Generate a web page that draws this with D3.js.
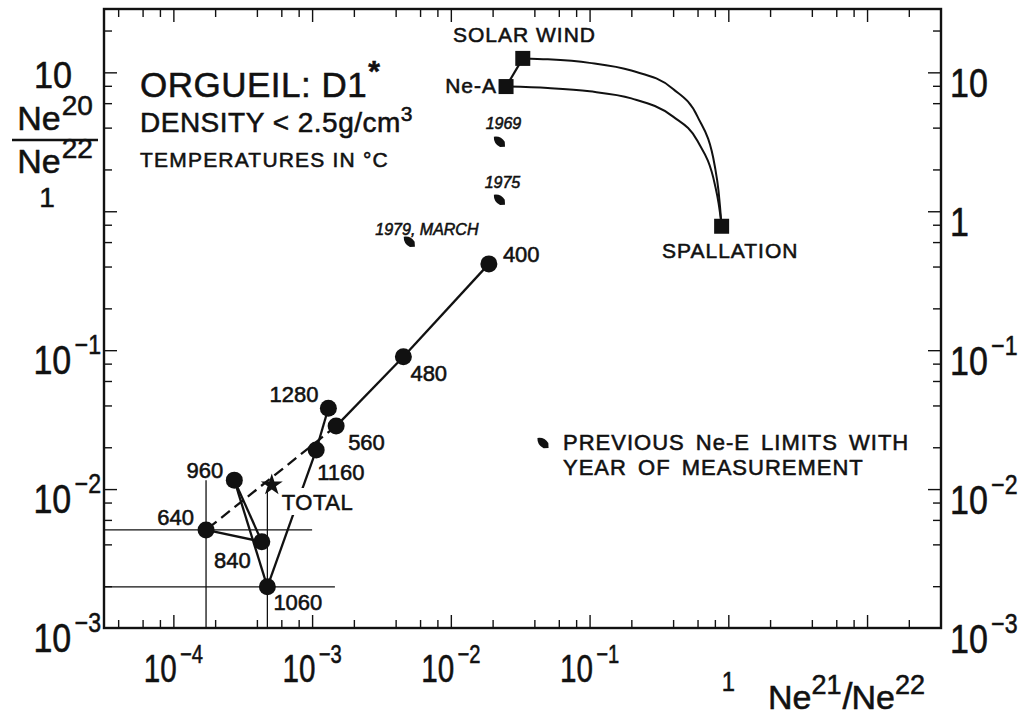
<!DOCTYPE html>
<html>
<head>
<meta charset="utf-8">
<script src="https://cdn.jsdelivr.net/npm/d3@7"></script>
<style>
html, body { margin: 0; padding: 0; background: #fff; }
svg text { font-family: "Liberation Sans", Arial, sans-serif; fill: #111; stroke: #111; stroke-width: 0.55px; }
</style>
</head>
<body>
<div id="chart"></div>
<script>
// step heating fractions, temperatures in C
var stepTemps = [400, 480, 560, 640, 840, 960, 1060, 1160, 1280];
var stepNe21 = [0.0188, 0.00455, 0.00149, 0.000172, 0.000434, 0.000275, 0.000476, 0.00107, 0.00131];
var stepNe20 = [0.418, 0.0897, 0.0284, 0.00508, 0.00418, 0.0116, 0.00198, 0.0191, 0.0382];

var totalNe21 = [0.000512];
var totalNe20 = [0.0107];

// limit lines drawn through 640 and 1060
var crossTemps = [640, 1060];
var crossNe21Max = [0.001, 0.00146];
var crossNe20Max = [0.0116, 0.00953];

// end members
var endNames = ['Ne-A', 'SOLAR WIND', 'SPALLATION'];
var endNe21 = [0.025, 0.033, 0.895];
var endNe20 = [7.9, 12.6, 0.78];

// mixing curves
var swCurveNe21 = [0.033, 0.05, 0.1, 0.2, 0.4, 0.6, 0.8, 0.85, 0.87, 0.895];
var swCurveNe20 = [12.6, 12.4, 11.7, 10.3, 7.6, 4.8, 2.1, 1.4, 1.1, 0.78];
var neaCurveNe21 = [0.025, 0.05, 0.1, 0.2, 0.4, 0.6, 0.8, 0.85, 0.87, 0.895];
var neaCurveNe20 = [7.9, 7.7, 7.3, 6.5, 4.8, 3.2, 1.56, 1.15, 0.98, 0.78];

// previous Ne-E limits
var limitYears = ['1969', '1975', '1979, MARCH'];
var limitNe21 = [0.0224, 0.0224, 0.00502];
var limitNe20 = [3.17, 1.21, 0.604];

var xTickValues = [1e-4, 1e-3, 1e-2, 1e-1, 1];
var yTickValues = [1e-3, 1e-2, 1e-1, 1, 10];
var minorSteps = [2, 4, 6, 8];

var NeonPlot = function(config) {
    this.setupSettings(config);
    this.createSVG();
    this.createScales();
    this.createAxes();
    this.createTickLabels();
    this.createAxisTitles();
    this.createEndMembers();
    this.createLimits();
    this.createCrossLines();
    this.createSteps();
    this.createNotes();
}

NeonPlot.prototype.setupSettings = function(config) {
    this.container = config && config.container || 'body';
    this.width =     config && config.width || 1032;
    this.height =    config && config.height || 718;
    this.frame = { left: 104, right: 941, top: 9, bottom: 628 };
    this.xDomain = [Math.pow(10, -4.5), Math.pow(10, 1.533)];
    this.yDomain = [1e-3, Math.pow(10, 1.456)];
    this.ink = '#111';
    this.dotRadius = 8.5;
    this.square = 15;
    // label offsets from each point, in px
    this.stepLabel = {
        400:  { dx: 14,  dy: -2, anchor: 'start' },
        480:  { dx: 7,   dy: 24, anchor: 'start' },
        560:  { dx: 12,  dy: 24, anchor: 'start' },
        640:  { dx: -12, dy: -5, anchor: 'end' },
        840:  { dx: -11, dy: 26, anchor: 'end' },
        960:  { dx: -11, dy: -2, anchor: 'end' },
        1060: { dx: 6,   dy: 23, anchor: 'start' },
        1160: { dx: 1,   dy: 30, anchor: 'start' },
        1280: { dx: -10, dy: -6, anchor: 'end' }
    };
    this.yearLabel = [
        { dx: 4, dy: -13, anchor: 'middle' },
        { dx: 3, dy: -12, anchor: 'middle' },
        { dx: -34, dy: -7, anchor: 'start' }
    ];
    this.endLabel = [
        { x: 497, y: 93, anchor: 'end' },
        { x: 453, y: 42, anchor: 'start' },
        { x: 662, y: 258, anchor: 'start' }
    ];
}

NeonPlot.prototype.createSVG = function() {
    this.svg = d3.select(this.container).append('svg')
        .attr('width', this.width)
        .attr('height', this.height);
    this.svg.append('rect')
        .attr('width', this.width)
        .attr('height', this.height)
        .attr('fill', '#fff');
}

NeonPlot.prototype.createScales = function() {
    var f = this.frame;
    this.x = d3.scaleLog().domain(this.xDomain).range([f.left, f.right]);
    this.y = d3.scaleLog().domain(this.yDomain).range([f.bottom, f.top]);
}

NeonPlot.prototype.minorTicks = function(domain) {
    var out = [];
    for (var e = -6; e <= 2; e++) {
        minorSteps.forEach(function(m) {
            var v = m * Math.pow(10, e);
            if (v > domain[0] && v < domain[1]) out.push(v);
        });
    }
    return out;
}

NeonPlot.prototype.createAxes = function() {
    var obj = this, f = this.frame;
    var xMinor = this.minorTicks(this.xDomain);
    var yMinor = this.minorTicks(this.yDomain);
    var xMajor = [1e-4, 1e-3, 1e-2, 1e-1, 1, 10];
    var yMajor = yTickValues.slice(1);

    var sides = [
        { axis: d3.axisBottom, scale: this.x, t: 'translate(0,' + f.bottom + ')', minor: xMinor, major: xMajor },
        { axis: d3.axisTop,    scale: this.x, t: 'translate(0,' + f.top + ')',    minor: xMinor, major: xMajor },
        { axis: d3.axisLeft,   scale: this.y, t: 'translate(' + f.left + ',0)',  minor: yMinor, major: yMajor },
        { axis: d3.axisRight,  scale: this.y, t: 'translate(' + f.right + ',0)', minor: yMinor, major: yMajor }
    ];
    sides.forEach(function(s) {
        [[s.minor, -8], [s.major, -13]].forEach(function(p) {
            var g = obj.svg.append('g')
                .attr('transform', s.t)
                .call(s.axis(s.scale).tickValues(p[0]).tickSize(p[1]).tickFormat(''));
            g.select('.domain').remove();
            g.selectAll('.tick line').attr('stroke', obj.ink).attr('stroke-width', 1.4);
        });
    });

    this.svg.append('rect')
        .attr('x', f.left)
        .attr('y', f.top)
        .attr('width', f.right - f.left)
        .attr('height', f.bottom - f.top)
        .attr('fill', 'none')
        .attr('stroke', this.ink)
        .attr('stroke-width', 2.4);
}

NeonPlot.prototype.powerLabel = function(x, y, v, anchor, size, sx) {
    var e = Math.round(Math.log10(v));
    var t = this.svg.append('text')
        .attr('transform', 'translate(' + x + ',' + y + ') scale(' + sx + ',1)')
        .attr('text-anchor', anchor)
        .style('font-size', size + 'px');
    if (e >= 0) {
        t.text(String(v));
        return t;
    }
    t.append('tspan').text('10');
    t.append('tspan')
        .attr('dx', 4)
        .attr('dy', -size * 0.5)
        .style('font-size', (size * 0.68) + 'px')
        .text('\u2212' + (-e));
    return t;
}

NeonPlot.prototype.createTickLabels = function() {
    var obj = this;
    xTickValues.forEach(function(v) {
        if (v >= 1) obj.powerLabel(obj.x(v), 691, v, 'middle', 28, 0.85);
        else obj.powerLabel(obj.x(v), 682, v, 'middle', 38, 0.78);
    });
    yTickValues.forEach(function(v) {
        if (v < 1) obj.powerLabel(101, obj.y(v) + 24, v, 'end', 40, 0.85);
        obj.powerLabel(950, obj.y(v) + 25, v, 'start', 40, 0.85);
    });
    // left 10 and 1 sit around the ratio title
    this.powerLabel(53, 88, 10, 'middle', 36, 0.95);
    this.powerLabel(47, 207, 1, 'middle', 28, 1);
}

NeonPlot.prototype.ratioText = function(x, y, iso, anchor) {
    var t = this.svg.append('text')
        .attr('x', x)
        .attr('y', y)
        .attr('text-anchor', anchor)
        .style('font-size', '34px');
    t.append('tspan').text('Ne');
    t.append('tspan').attr('dx', 1).attr('dy', -15).style('font-size', '28px').text(iso);
    return t;
}

NeonPlot.prototype.createAxisTitles = function() {
    this.ratioText(55, 130, '20', 'middle');
    this.svg.append('line')
        .attr('x1', 12).attr('x2', 98)
        .attr('y1', 140).attr('y2', 140)
        .attr('stroke', this.ink)
        .attr('stroke-width', 2.5);
    this.ratioText(55, 173, '22', 'middle');

    var t = this.svg.append('text')
        .attr('x', 768)
        .attr('y', 709)
        .style('font-size', '34px');
    t.append('tspan').text('Ne');
    t.append('tspan').attr('dy', -15).style('font-size', '27px').text('21');
    t.append('tspan').attr('dy', 15).attr('dx', 1).style('font-size', '36px').text('/');
    t.append('tspan').attr('dx', -1).text('Ne');
    t.append('tspan').attr('dy', -15).style('font-size', '27px').text('22');
}

NeonPlot.prototype.createEndMembers = function() {
    var obj = this;
    var line = d3.line()
        .x(function(d) { return obj.x(d[0]); })
        .y(function(d) { return obj.y(d[1]); })
        .curve(d3.curveMonotoneX);
    [[swCurveNe21, swCurveNe20], [neaCurveNe21, neaCurveNe20]].forEach(function(c) {
        obj.svg.append('path')
            .attr('d', line(d3.zip(c[0], c[1])))
            .attr('fill', 'none')
            .attr('stroke', obj.ink)
            .attr('stroke-width', 2);
    });
    this.svg.append('line')
        .attr('x1', this.x(endNe21[0])).attr('y1', this.y(endNe20[0]))
        .attr('x2', this.x(endNe21[1])).attr('y2', this.y(endNe20[1]))
        .attr('stroke', this.ink)
        .attr('stroke-width', 2.2);

    var s = this.square;
    this.svg.selectAll('.endSquare')
        .data(d3.range(endNames.length))
        .enter()
            .append('rect')
            .attr('class', 'endSquare')
            .attr('x', function(i) { return obj.x(endNe21[i]) - s / 2; })
            .attr('y', function(i) { return obj.y(endNe20[i]) - s / 2; })
            .attr('width', s)
            .attr('height', s)
            .attr('fill', this.ink);

    this.svg.selectAll('.endLabel')
        .data(d3.range(endNames.length))
        .enter()
            .append('text')
            .attr('class', 'endLabel')
            .attr('x', function(i) { return obj.endLabel[i].x; })
            .attr('y', function(i) { return obj.endLabel[i].y; })
            .attr('text-anchor', function(i) { return obj.endLabel[i].anchor; })
            .style('font-size', '21px')
            .style('letter-spacing', '1px')
            .text(function(i) { return endNames[i]; });
}

NeonPlot.prototype.leaf = function(g, x, y) {
    g.append('path')
        .attr('transform', 'translate(' + x + ',' + y + ') rotate(42)')
        .attr('d', 'M-7.5,0 Q-3,-5.5 4,-3.5 L7.5,0 L4,3.5 Q-3,5.5 -7.5,0 Z')
        .attr('fill', this.ink);
}

NeonPlot.prototype.createLimits = function() {
    var obj = this;
    limitYears.forEach(function(yr, i) {
        var px = obj.x(limitNe21[i]), py = obj.y(limitNe20[i]);
        obj.leaf(obj.svg, px, py);
        obj.svg.append('text')
            .attr('x', px + obj.yearLabel[i].dx)
            .attr('y', py + obj.yearLabel[i].dy)
            .attr('text-anchor', obj.yearLabel[i].anchor)
            .style('font-size', '16px')
            .style('font-style', 'italic')
            .text(yr);
    });
}

NeonPlot.prototype.createCrossLines = function() {
    var obj = this;
    crossTemps.forEach(function(temp, i) {
        var k = stepTemps.indexOf(temp);
        var px = obj.x(stepNe21[k]), py = obj.y(stepNe20[k]);
        obj.svg.append('line')
            .attr('x1', obj.frame.left).attr('x2', obj.x(crossNe21Max[i]))
            .attr('y1', py).attr('y2', py)
            .attr('stroke', obj.ink).attr('stroke-width', 1.3);
        obj.svg.append('line')
            .attr('x1', px).attr('x2', px)
            .attr('y1', obj.frame.bottom).attr('y2', obj.y(crossNe20Max[i]))
            .attr('stroke', obj.ink).attr('stroke-width', 1.3);
    });
}

NeonPlot.prototype.createSteps = function() {
    var obj = this;
    var pts = stepTemps.map(function(t, i) {
        return { temp: t, x: obj.x(stepNe21[i]), y: obj.y(stepNe20[i]) };
    });
    // 560 -> 640 is dashed, the rest solid
    for (var i = 0; i < pts.length - 1; i++) {
        var a = pts[i], b = pts[i + 1];
        obj.svg.append('line')
            .attr('x1', a.x).attr('y1', a.y)
            .attr('x2', b.x).attr('y2', b.y)
            .attr('stroke', obj.ink)
            .attr('stroke-width', 2.3)
            .attr('stroke-dasharray', a.temp === 560 ? '11,6' : null);
    }

    // TOTAL star and its label, with a gap cut into the 1060-1160 line
    var tx = this.x(totalNe21[0]), ty = this.y(totalNe20[0]);
    var lab = this.svg.append('text')
        .attr('x', tx + 10)
        .attr('y', ty + 25)
        .style('font-size', '22px')
        .style('letter-spacing', '0.5px')
        .text('TOTAL');
    var bb = lab.node().getBBox();
    this.svg.insert('rect', function() { return lab.node(); })
        .attr('x', bb.x - 1).attr('y', bb.y - 2)
        .attr('width', bb.width + 2).attr('height', bb.height + 2)
        .attr('fill', '#fff');
    this.svg.append('path')
        .attr('transform', 'translate(' + tx + ',' + ty + ')')
        .attr('d', d3.symbol().type(d3.symbolStar).size(150)())
        .attr('fill', this.ink);

    this.svg.selectAll('.stepDot')
        .data(pts)
        .enter()
            .append('circle')
            .attr('class', 'stepDot')
            .attr('cx', function(d) { return d.x; })
            .attr('cy', function(d) { return d.y; })
            .attr('r', this.dotRadius)
            .attr('fill', this.ink);

    this.svg.selectAll('.stepLabel')
        .data(pts)
        .enter()
            .append('text')
            .attr('class', 'stepLabel')
            .attr('x', function(d) { return d.x + obj.stepLabel[d.temp].dx; })
            .attr('y', function(d) { return d.y + obj.stepLabel[d.temp].dy; })
            .attr('text-anchor', function(d) { return obj.stepLabel[d.temp].anchor; })
            .style('font-size', '22px')
            .text(function(d) { return d.temp; });
}

NeonPlot.prototype.createNotes = function() {
    var t = this.svg.append('text')
        .attr('x', 140).attr('y', 97)
        .style('font-size', '35px')
        .style('letter-spacing', '0.5px');
    t.append('tspan').text('ORGUEIL:  D1');
    t.append('tspan').attr('dy', -16).attr('dx', 1).style('font-size', '30px').style('font-weight', 'bold').text('*');

    var d = this.svg.append('text')
        .attr('x', 140).attr('y', 132)
        .style('font-size', '28px')
        .style('letter-spacing', '0.5px');
    d.append('tspan').text('DENSITY  < 2.5g/cm');
    d.append('tspan').attr('dy', -11).style('font-size', '21px').text('3');

    this.svg.append('text')
        .attr('x', 140).attr('y', 167)
        .style('font-size', '21px')
        .style('letter-spacing', '1.2px')
        .text('TEMPERATURES  IN  \u00b0C');

    this.leaf(this.svg, 543, 443);
    this.svg.append('text')
        .attr('x', 563).attr('y', 450)
        .style('font-size', '22px')
        .style('letter-spacing', '1px')
        .style('word-spacing', '4px')
        .text('PREVIOUS Ne-E LIMITS WITH');
    this.svg.append('text')
        .attr('x', 563).attr('y', 475)
        .style('font-size', '22px')
        .style('letter-spacing', '1px')
        .style('word-spacing', '4px')
        .text('YEAR OF MEASUREMENT');
}

var plot = new NeonPlot({ container: '#chart' });
</script>
</body>
</html>
